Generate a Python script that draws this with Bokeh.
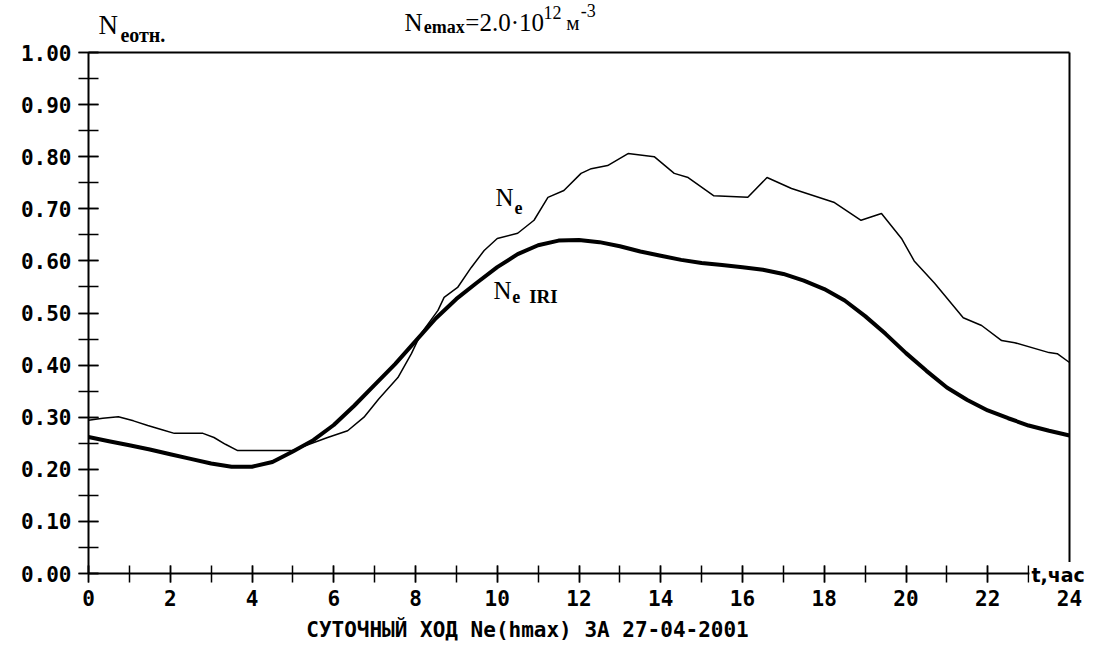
from bokeh.plotting import figure
from bokeh.models import Range1d, FixedTicker, PrintfTickFormatter, LinearAxis, Label
from bokeh.embed import file_html
from bokeh.resources import INLINE

# ---- data ----
t_ne = [0, 0.35, 0.73, 1.1, 1.45, 1.8, 2.1, 2.8, 3.07, 3.35, 3.65, 4.3, 5.0, 5.4, 5.85,
        6.34, 6.74, 7.1, 7.57, 7.9, 8.13, 8.55, 8.7, 9.03, 9.36, 9.68, 10.0, 10.5, 10.9,
        11.24, 11.63, 12.05, 12.3, 12.7, 13.2, 13.84, 14.33, 14.67, 15.3, 16.13, 16.6,
        17.2, 18.1, 18.25, 18.9, 19.4, 19.9, 20.2, 20.7, 21.4, 21.85, 22.34, 22.66,
        23.5, 23.7, 24.0]
ne = [0.294, 0.298, 0.301, 0.293, 0.284, 0.276, 0.269, 0.269, 0.261, 0.248, 0.236, 0.236,
      0.236, 0.248, 0.261, 0.274, 0.300, 0.335, 0.376, 0.422, 0.460, 0.505, 0.530, 0.549,
      0.587, 0.620, 0.643, 0.653, 0.678, 0.722, 0.735, 0.768, 0.777, 0.783, 0.806, 0.800,
      0.768, 0.760, 0.725, 0.722, 0.760, 0.739, 0.716, 0.712, 0.678, 0.691, 0.642, 0.600,
      0.557, 0.491, 0.476, 0.447, 0.443, 0.424, 0.422, 0.405]

t_iri = [0, 0.5, 1, 1.5, 2, 2.5, 3, 3.5, 4, 4.5, 5, 5.5, 6, 6.5, 7, 7.5, 8, 8.5, 9, 9.5,
         10, 10.5, 11, 11.5, 12, 12.5, 13, 13.5, 14, 14.5, 15, 15.5, 16, 16.5, 17, 17.5,
         18, 18.5, 19, 19.5, 20, 20.5, 21, 21.5, 22, 22.5, 23, 23.5, 24]
ne_iri = [0.262, 0.254, 0.246, 0.238, 0.229, 0.220, 0.211, 0.205, 0.205, 0.214, 0.234,
          0.256, 0.285, 0.322, 0.362, 0.402, 0.446, 0.490, 0.527, 0.558, 0.588, 0.613,
          0.630, 0.639, 0.640, 0.636, 0.628, 0.618, 0.610, 0.602, 0.596, 0.592, 0.588,
          0.583, 0.575, 0.562, 0.546, 0.524, 0.494, 0.460, 0.423, 0.389, 0.357, 0.333,
          0.313, 0.298, 0.284, 0.274, 0.265]

x_major = [0, 2, 4, 6, 8, 10, 12, 14, 16, 18, 20, 22, 24]
x_minor = list(range(0, 25))
y_major = [0.0, 0.1, 0.2, 0.3, 0.4, 0.5, 0.6, 0.7, 0.8, 0.9, 1.0]
y_minor = [i * 0.05 for i in range(21)]

bottom_title = "СУТОЧНЫЙ ХОД Ne(hmax) ЗА 27-04-2001"
x_unit = "t,час"

MONO = "DejaVu Sans Mono"
SERIF = "Liberation Serif"

W, H = 1095, 648
# pixel geometry of the plotting box inside the canvas
X0, PX_PER_H = 88, 40.875
Y0, PX_PER_UNIT = 573, 521

p = figure(width=W, height=H, output_backend="svg", toolbar_location=None,
           x_range=Range1d(-X0 / PX_PER_H, (W - X0) / PX_PER_H),
           y_range=Range1d(-(H - Y0) / PX_PER_UNIT, Y0 / PX_PER_UNIT),
           min_border=0, min_border_left=0, min_border_right=0,
           min_border_top=0, min_border_bottom=0,
           x_axis_type=None, y_axis_type=None)
p.outline_line_color = None
p.background_fill_color = "white"
p.border_fill_color = "white"
p.grid.visible = False

xaxis = LinearAxis(ticker=FixedTicker(ticks=x_major, minor_ticks=x_minor),
                   fixed_location=0, bounds=(0, 24))
yaxis = LinearAxis(ticker=FixedTicker(ticks=y_major, minor_ticks=y_minor),
                   formatter=PrintfTickFormatter(format="%.2f"),
                   fixed_location=0, bounds=(0, 1))
for ax, tin, tout in ((xaxis, 8, 9), (yaxis, 10, 10)):
    ax.axis_line_width = 2
    ax.axis_line_color = "black"
    ax.major_tick_in = tin
    ax.major_tick_out = tout
    ax.minor_tick_in = tin
    ax.minor_tick_out = tout
    ax.major_tick_line_width = 1.5
    ax.minor_tick_line_width = 1.5
    ax.major_tick_line_color = "black"
    ax.minor_tick_line_color = "black"
    ax.major_label_text_font = MONO
    ax.major_label_text_font_style = "bold"
    ax.major_label_text_font_size = "21px"
    ax.major_label_text_color = "black"
    ax.major_label_standoff = 7
p.add_layout(xaxis, "below")
p.add_layout(yaxis, "left")

top_border = LinearAxis(ticker=FixedTicker(ticks=[]), fixed_location=1, bounds=(0, 24))
right_border = LinearAxis(ticker=FixedTicker(ticks=[]), fixed_location=24, bounds=(0, 1))
for ax in (top_border, right_border):
    ax.axis_line_width = 2
    ax.axis_line_color = "black"
    ax.major_tick_line_color = None
    ax.minor_tick_line_color = None
    ax.major_label_text_font_size = "0px"
p.add_layout(top_border, "above")
p.add_layout(right_border, "right")

p.line(t_ne, ne, line_color="black", line_width=1.5)
p.line(t_iri, ne_iri, line_color="black", line_width=4)


def lab(text, x, y, size, bold=False, font=SERIF, align="left", baseline="alphabetic",
        bg=None, yoff=8):
    l = Label(x=x, y=y, text=text, text_font=font, text_font_size=size,
              text_font_style="bold" if bold else "normal", text_color="black",
              text_align=align, text_baseline=baseline, y_offset=yoff)
    if bg is not None:
        l.background_fill_color = bg
        l.padding = 2
    p.add_layout(l)


# top title: N_emax = 2.0·10^12 м^-3
lab("N", 7.73, 1.042, "25px")
lab("emax", 8.20, 1.0345, "18px", bold=True)
lab("=2.0·10", 9.22, 1.042, "25px")
lab("12", 11.13, 1.061, "18px")
lab("м", 11.69, 1.042, "21px")
lab("-3", 12.04, 1.065, "18px")

# y label N_eотн.
lab("N", 0.245, 1.0365, "27px")
lab("eотн.", 0.78, 1.019, "20px", bold=True)

# curve labels
lab("N", 9.96, 0.706, "25px")
lab("e", 10.42, 0.687, "18px", bold=True)
lab("N", 9.91, 0.528, "25px")
lab("e", 10.37, 0.516, "18px", bold=True)
lab("IRI", 10.78, 0.516, "19px", bold=True)

# axis unit and bottom caption
lab(x_unit, 23.02, -0.003, "19px", bold=True, font="DejaVu Sans", baseline="middle",
    bg="white", yoff=0)
lab(bottom_title, 10.74, -0.123, "21px", bold=True, font=MONO, align="center")

open("out.html", "w").write(file_html(p, INLINE))
